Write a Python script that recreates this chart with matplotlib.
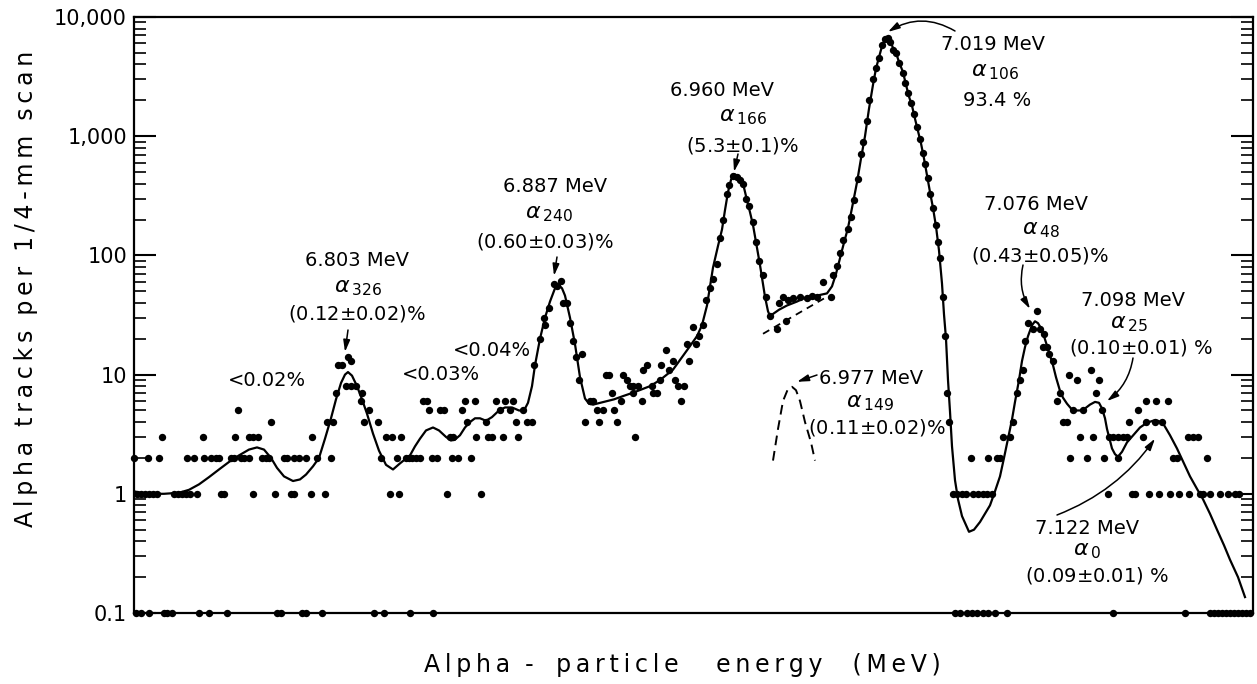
import numpy as np
import matplotlib.pyplot as plt
from matplotlib.ticker import NullFormatter

# scan position along the plate (arbitrary units, left edge = 0) and track counts
zero_x = [2, 7, 15, 30, 33, 38, 65, 75, 93, 143, 147, 168, 172, 188, 240, 250, 276, 299,
          821, 826, 833, 838, 843, 849, 854, 861, 873, 979, 1051,
          1076, 1080, 1084, 1088, 1092, 1096, 1100, 1104, 1108, 1112, 1116]
one_x = [3, 7, 11, 15, 19, 23, 40, 44, 48, 52, 56, 63, 87, 90, 119, 141, 157, 160, 177, 191,
         256, 265, 313, 347, 819, 823, 828, 832, 839, 844, 849, 853, 858, 974, 998, 1001,
         1015, 1025, 1036, 1045, 1055, 1066, 1069, 1076, 1086, 1094, 1101, 1105]
two_x = [0, 14, 25, 53, 60, 70, 77, 82, 85, 97, 100, 107, 110, 115, 128, 132, 135, 150, 153,
         160, 165, 172, 183, 197, 247, 263, 272, 275, 278, 282, 286, 298, 303, 318, 324, 337,
         837, 854, 863, 866, 936, 953, 970, 984, 1039, 1043, 1073]
three_x = [28, 69, 101, 115, 119, 124, 178, 252, 258, 267, 316, 319, 342, 354, 358, 369, 384,
           501, 869, 876, 946, 959, 975, 979, 984, 989, 993, 1009, 1054, 1059, 1064]
four_x = [137, 193, 199, 230, 244, 333, 352, 382, 393, 398, 451, 465, 483, 815, 879, 929, 933,
          995, 1012, 1021, 1028]
five_x = [104, 235, 295, 306, 310, 328, 366, 376, 389, 463, 469, 480, 939, 949, 968, 1004]
six_x = [227, 289, 293, 331, 341, 362, 371, 379, 456, 459, 487, 508, 547, 923, 1012, 1022, 1034]
seven_x = [202, 228, 478, 499, 519, 523, 813, 883, 926, 962]

# higher counts (peaks)
peak_x = [204, 208, 214, 217, 212, 217, 222,
          400, 406, 410, 411, 415, 420, 423, 427, 429, 433, 436, 439, 442, 448, 445,
          472, 475, 489, 493, 496, 499, 504, 509, 513, 518, 526, 527, 532, 535, 539, 541, 544,
          550, 553, 555, 559, 562, 565, 569, 572, 576, 579, 583, 586, 589, 593, 595, 599, 603,
          606, 609, 612, 615, 619, 622, 625, 629, 632, 636,
          643, 645, 649, 652, 654, 659, 666, 673, 678, 683, 689, 697,
          699, 703, 706, 709, 714, 717, 720, 724, 727, 729, 733, 735, 739, 742, 745, 748, 751, 754,
          756, 759, 762, 765, 769, 771, 774, 777, 780, 783, 786, 789, 791, 794, 796, 799, 802,
          804, 806, 809, 811,
          886, 889, 891, 894, 899, 903, 906, 909, 910, 913, 915, 919, 935, 943, 957, 965]
peak_n = [12, 12, 14, 13, 8, 8, 8,
          12, 20, 30, 26, 36, 57, 55, 61, 40, 40, 27, 19, 14, 15, 9,
          10, 10, 10, 9, 8, 8, 8, 11, 12, 8, 9, 12, 16, 11, 13, 9, 8,
          8, 18, 13, 25, 18, 21, 26, 42, 53, 64, 84, 140, 200, 330, 390, 465, 455,
          430, 400, 300, 260, 190, 130, 90, 68, 45, 31,
          24, 40, 45, 28, 42, 44, 45, 44, 46, 45, 60, 45,
          68, 82, 104, 135, 165, 210, 290, 440, 710, 900, 1330, 2000, 3000, 3700, 4500, 5800,
          6500, 6700,
          6200, 5300, 5000, 4100, 3400, 2800, 2300, 1900, 1550, 1200, 950, 720, 580, 450, 330,
          250, 180, 130, 95, 45, 21,
          9, 11, 19, 27, 24, 34, 24, 17, 22, 17, 15, 13, 10, 9, 11, 9]

# smooth fitted curve
fit_x = [0, 10, 30, 45, 55, 65, 75, 85, 95, 105, 115, 123, 130, 137, 143, 150, 159, 166, 172,
         179, 185, 191, 197, 202, 207, 211, 214, 218, 223, 228, 233, 239, 245, 252, 259, 266,
         276, 281, 286, 292, 299, 305, 312, 317, 321, 326, 331, 336, 341, 346, 352, 358, 365,
         371, 378, 385, 390, 394, 398, 401, 406, 411, 416, 421, 425, 428, 431, 436, 441, 446,
         451, 455, 459, 470, 480, 489, 500, 516, 526, 539, 553, 563, 568, 573, 579, 584, 588,
         591, 594, 597, 600, 603, 606, 610, 613, 616, 619, 623, 626, 631, 634, 636, 645, 653,
         663, 673, 683, 693, 698, 702, 706, 710, 714, 718, 723, 727, 731, 735, 739, 742, 745,
         748, 751, 753, 756, 759, 762, 765, 769, 772, 775, 778, 781, 784, 787, 790, 793, 796,
         799, 802, 805, 808, 810, 812, 814, 816, 818, 821, 824, 828, 835, 840, 846, 851, 856,
         861, 866, 870, 874, 878, 881, 885, 888, 891, 894, 898, 901, 904, 907, 910, 913, 916,
         919, 922, 926, 929, 933, 937, 941, 946, 951, 956, 961, 965, 968, 971, 973, 976, 978,
         981, 984, 988, 993, 1000, 1006, 1013, 1019, 1024, 1029, 1036, 1043, 1050, 1056, 1063,
         1069, 1076, 1083, 1090, 1096, 1104, 1111]
fit_y = [1.05, 1.0, 1.0, 1.02, 1.08, 1.2, 1.38, 1.6, 1.85, 2.1, 2.35, 2.45, 2.35, 2.0, 1.65,
         1.4, 1.28, 1.32, 1.45, 1.7, 2.0, 2.9, 4.3, 6.2, 8.5, 10.0, 10.5, 9.8, 8.0, 6.2, 4.7,
         3.2, 2.3, 1.75, 1.6, 1.8, 2.1, 2.5, 2.9, 3.4, 3.6, 3.4, 3.0, 2.8, 2.85, 3.1, 3.6, 4.0,
         4.3, 4.3, 4.1, 4.4, 5.0, 5.3, 5.3, 5.0, 5.0, 5.8, 8.0, 12, 20, 30, 41, 53, 56, 53, 46,
         30, 18, 9.5, 6.3, 5.7, 5.6, 5.9, 6.2, 6.6, 7.1, 8.0, 9.0, 11, 16, 21, 26, 38, 79, 120,
         165, 240, 340, 430, 480, 470, 450, 370, 290, 230, 180, 115, 83, 45, 34, 31, 35, 38, 41,
         45, 46, 48, 55, 70, 95, 128, 170, 250, 410, 650, 1000, 1700, 2700, 3700, 4600, 5700,
         6500, 6800, 6400, 5500, 5000, 4200, 3450, 2700, 2150, 1800, 1400, 1100, 870, 650, 470,
         340, 250, 175, 110, 58, 32, 20, 9, 4.9, 2.5, 1.3, 0.9, 0.65, 0.48, 0.5, 0.58, 0.68,
         0.8, 1.05, 1.4, 2.0, 2.9, 4.2, 5.9, 9.0, 13, 17, 21, 26, 28, 27, 24.5, 21, 17.5, 14.5,
         12, 9.5, 7.3, 6.4, 5.7, 5.2, 5.0, 5.0, 5.2, 5.6, 5.9, 5.8, 5.2, 4.3, 3.5, 2.8, 2.4,
         2.15, 2.05, 2.25, 2.7, 3.15, 3.6, 3.95, 4.1, 4.1, 3.9, 3.1, 2.4, 1.8, 1.4, 1.1, 0.9,
         0.68, 0.5, 0.37, 0.28, 0.2, 0.136]

# background under the 6.977 MeV group (dashed)
bg_x = [629, 693]
bg_y = [22, 45]

# resolved alpha-149 component (dashed)
a149_x = [639, 644, 649, 654, 658, 662, 666, 671, 677, 681]
a149_y = [1.9, 3.5, 6.0, 7.6, 7.9, 7.4, 6.0, 4.0, 2.7, 1.9]

ytick_vals = [0.1, 1, 10, 100, 1000, 10000]
ytick_labels = ['0.1', '1', '10', '100', '1,000', '10,000']

W, H = 1257, 684
fig = plt.figure(figsize=(W / 100, H / 100), dpi=100)
ax = fig.add_axes([134 / W, 71 / H, 1119 / W, 596 / H])

ax.plot(fit_x, fit_y, color='black', lw=1.6, zorder=2)
ax.plot(bg_x, bg_y, color='black', lw=1.3, ls=(0, (4, 3)), zorder=2)
ax.plot(a149_x, a149_y, color='black', lw=1.4, ls=(0, (5, 3)), zorder=2)

groups = [zero_x, one_x, two_x, three_x, four_x, five_x, six_x, seven_x]
dot_x, dot_n = [], []
for n, xs in enumerate(groups):
    dot_x += xs
    dot_n += [n] * len(xs)
dot_x += peak_x
dot_n += peak_n
dot_n = np.array(dot_n, dtype=float)
dot_y = np.where(dot_n == 0, 0.1, dot_n)
ax.plot(dot_x, dot_y, 'o', color='black', ms=5.3, mew=0, clip_on=False, zorder=3)

ax.set_yscale('log')
ax.set_ylim(0.1, 10000)
ax.set_xlim(0, 1119)
ax.set_xticks([])
ax.set_yticks(ytick_vals, ytick_labels)
ax.yaxis.set_minor_formatter(NullFormatter())
ax.tick_params(axis='y', which='both', direction='in', left=True, right=True, labelsize=15, pad=5)
ax.tick_params(axis='y', which='major', length=16, width=1.5)
ax.tick_params(axis='y', which='minor', length=8.5, width=1.2)
for s in ax.spines.values():
    s.set_linewidth(1.6)


def px(x, y):
    return (x, H - y)


def spread(word):
    return '\u2009'.join(word)


# peak labels: (x, y) of each of the three lines, in pixels from top-left
labels = [
    ('6.803 MeV', '326', '(0.12$\\pm$0.02)%', (357, 261), (358, 288), (357, 314)),
    ('6.887 MeV', '240', '(0.60$\\pm$0.03)%', (555, 187), (549, 214), (545, 242)),
    ('6.960 MeV', '166', '(5.3$\\pm$0.1)%', (722, 90), (743, 117), (743, 145)),
    ('7.019 MeV', '106', '93.4 %', (993, 45), (995, 72), (997, 100)),
    ('7.076 MeV', '48', '(0.43$\\pm$0.05)%', (1036, 205), (1041, 230), (1040, 256)),
    ('7.098 MeV', '25', '(0.10$\\pm$0.01) %', (1133, 300), (1129, 324), (1141, 347)),
    ('6.977 MeV', '149', '(0.11$\\pm$0.02)%', (871, 378), (870, 403), (877, 427)),
    ('7.122 MeV', '0', '(0.09$\\pm$0.01) %', (1087, 529), (1087, 551), (1097, 575)),
]
for energy, sub, pct, p1, p2, p3 in labels:
    ax.annotate(energy, xy=px(*p1), xycoords='figure pixels', ha='center', va='center', fontsize=14)
    ax.annotate('$\\alpha_{\\,\\mathregular{%s}}$' % sub, xy=px(*p2), xycoords='figure pixels',
                ha='center', va='center', fontsize=16)
    ax.annotate(pct, xy=px(*p3), xycoords='figure pixels', ha='center', va='center', fontsize=14)

for txt, p in [('<0.02%', (267, 381)), ('<0.03%', (441, 374)), ('<0.04%', (492, 351))]:
    ax.annotate(txt, xy=px(*p), xycoords='figure pixels', ha='center', va='center', fontsize=14)

# arrows: start (pixels), tip (data), curvature
arrows = [
    ((348, 330), (211, 15.5), 0.0),
    ((557, 257), (420, 67.5), 0.0),
    ((738, 154), (600, 503), 0.0),
    ((955, 31), (754, 7500), 0.3),
    ((1023, 265), (896, 35.6), 0.2),
    ((1133, 358), (973, 6.0), -0.2),
    ((817, 375), (663, 8.7), 0.0),
    ((1057, 515), (1021, 2.9), 0.15),
]
for start, tip, rad in arrows:
    ax.annotate('', xy=tip, xycoords='data', xytext=px(*start), textcoords='figure pixels',
                arrowprops=dict(arrowstyle='-|>,head_length=0.7,head_width=0.2', color='black',
                                lw=1.1, shrinkA=0, shrinkB=0,
                                connectionstyle='arc3,rad=%s' % rad))

ylab = '  '.join(spread(w) for w in ['Alpha', 'tracks', 'per', '1/4-mm', 'scan'])
fig.text(26 / W, 1 - 289 / H, ylab, rotation=90, ha='center', va='center', fontsize=17)
xlab = spread('Alpha') + '  -   ' + spread('particle') + '     ' + spread('energy') + \
    '    ' + spread('(MeV)')
fig.text(682 / W, 1 - 665 / H, xlab, ha='center', va='center', fontsize=17)

fig.savefig('out.png', dpi=100)
